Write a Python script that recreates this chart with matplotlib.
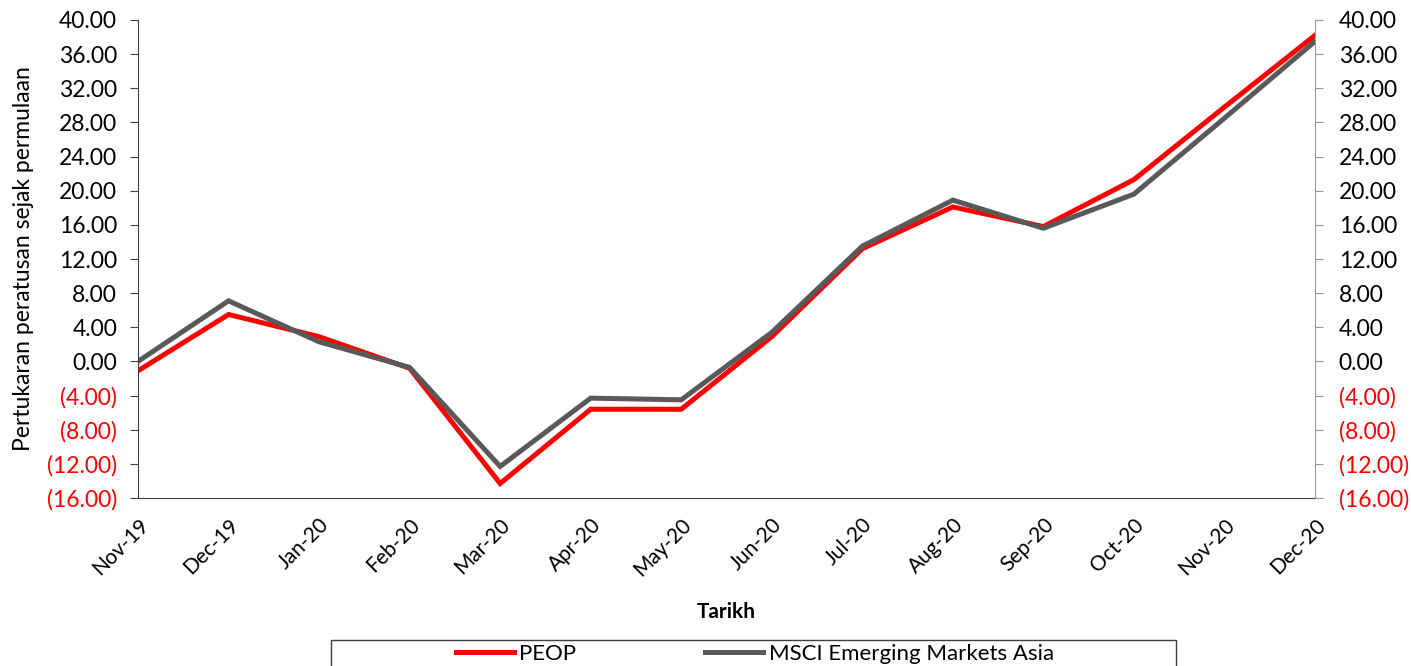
import matplotlib
matplotlib.use('Agg')
import numpy as np
from matplotlib import pyplot as plt
from matplotlib.ticker import FuncFormatter
from matplotlib.patches import Rectangle

months = ['Nov-19', 'Dec-19', 'Jan-20', 'Feb-20', 'Mar-20', 'Apr-20', 'May-20',
          'Jun-20', 'Jul-20', 'Aug-20', 'Sep-20', 'Oct-20', 'Nov-20', 'Dec-20']
peop = [-1.1, 5.5, 2.9, -0.8, -14.3, -5.6, -5.6, 2.9, 13.2, 18.1, 15.8, 21.3, 29.8, 38.2]
msci = [0.0, 7.1, 2.3, -0.7, -12.3, -4.3, -4.5, 3.4, 13.5, 18.9, 15.6, 19.6, 28.5, 37.5]
yticks = np.arange(-16, 41, 4)

plt.rcParams['font.family'] = ['Lato', 'DejaVu Sans']

def fmt(v, pos):
    if v < 0:
        return '(%.2f)' % abs(v)
    return '%.2f' % v

fig = plt.figure(figsize=(14.11, 6.66), dpi=100)
ax = fig.add_axes([138/1411, 1-498/666, (1315-138)/1411, (498-20)/666])
x = np.arange(len(months))
ax.plot(x, peop, color='#ff0000', lw=3.6, label='PEOP', solid_joinstyle='miter')
ax.plot(x, msci, color='#595959', lw=3.6, label='MSCI Emerging Markets Asia', solid_joinstyle='miter')

ax.set_xlim(0, len(months)-1)
ax.set_ylim(-16, 40)
ax.set_yticks(yticks)
ax.yaxis.set_major_formatter(FuncFormatter(fmt))
ax.set_xticks(x)
ax.set_xticklabels(months, rotation=45, ha='right', rotation_mode='anchor', fontsize=15)
ax.tick_params(axis='x', length=0, pad=12)
ax.tick_params(axis='y', labelsize=16.5, length=6, color='#404040', direction='out', pad=9)

ax.spines['top'].set_visible(False)
ax.spines['right'].set_visible(False)
ax.spines['left'].set_color('#404040')
ax.spines['bottom'].set_color('#404040')

ax2 = ax.twinx()
ax2.set_ylim(-16, 40)
ax2.set_yticks(yticks)
ax2.yaxis.set_major_formatter(FuncFormatter(fmt))
ax2.tick_params(axis='y', labelsize=16.5, length=6, color='#999999', direction='out', pad=11)
for s in ['top', 'left', 'bottom']:
    ax2.spines[s].set_visible(False)
ax2.spines['right'].set_color('#999999')

for a in (ax, ax2):
    for lbl, v in zip(a.get_yticklabels(), yticks):
        lbl.set_color('#ff0000' if v < 0 else 'black')

ax.set_ylabel('Pertukaran peratusan sejak permulaan', fontsize=16.5, labelpad=9)
ax.set_xlabel('Tarikh', fontsize=15, fontweight='bold', labelpad=16)

# legend box runs off the bottom edge like in the original
fig.patches.append(Rectangle((331/1411, 1-672/666), 845/1411, 32/666, transform=fig.transFigure,
                             fill=False, edgecolor='#404040', linewidth=1.0))
leg = fig.legend(loc='center', bbox_to_anchor=(0.535, 1-654/666), ncol=2, frameon=False,
                 fontsize=16, handlelength=2.6, handletextpad=0.25, columnspacing=5.8,
                 borderaxespad=0, borderpad=0)

fig.savefig('out.png', dpi=100)
